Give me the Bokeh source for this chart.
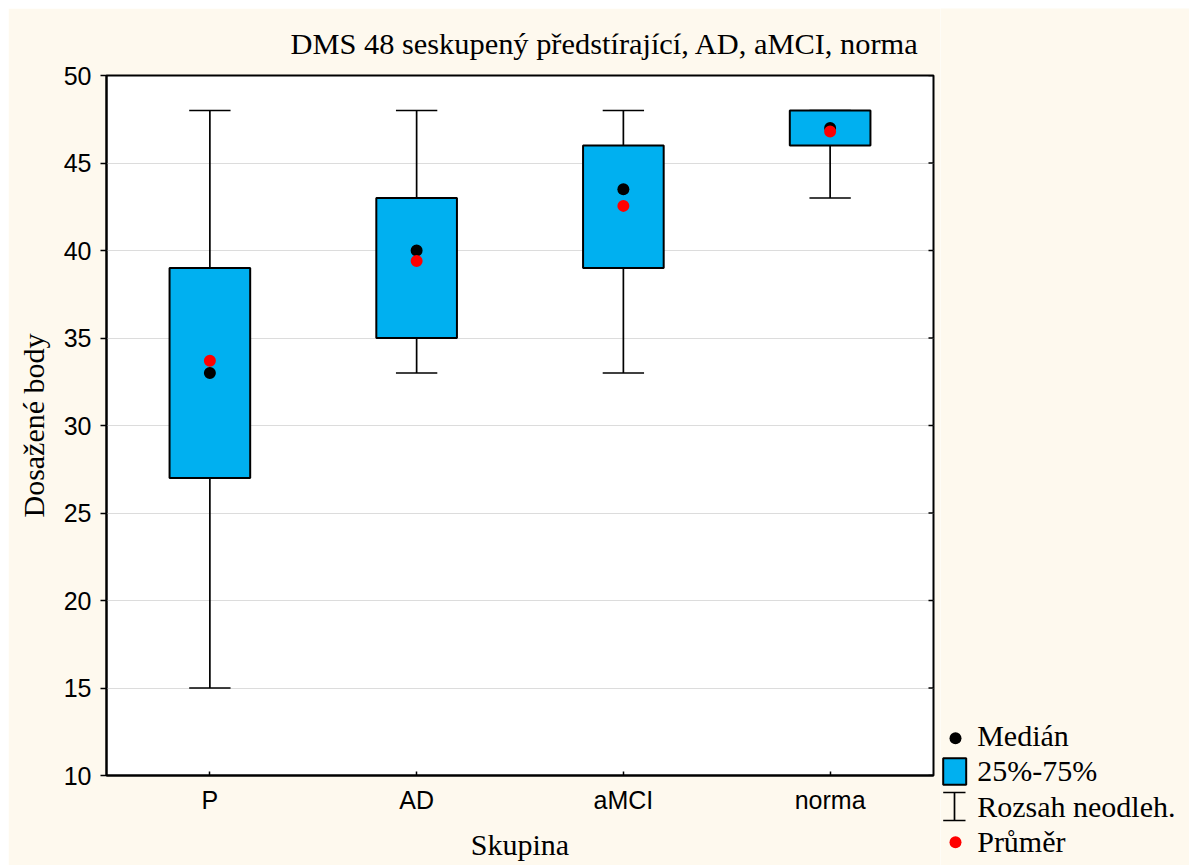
from bokeh.plotting import figure
from bokeh.models import (Range1d, FactorRange, ColumnDataSource,
                          FixedTicker, Title, Spacer)
from bokeh.transform import dodge
from bokeh.layouts import row, column
from bokeh.embed import file_html
from bokeh.resources import INLINE
from bokeh.core.properties import value

# ---------------- data ----------------
groups = ["P", "AD", "aMCI", "norma"]
minimum = [15, 33, 33, 43]
q1 = [27, 35, 39, 46]
median = [33, 40, 43.5, 47]
q3 = [39, 43, 46, 48]
maximum = [48, 48, 48, 48]
mean = [33.7, 39.4, 42.55, 46.8]

y_ticks = [10, 15, 20, 25, 30, 35, 40, 45, 50]
title_text = "DMS 48 seskupený předstírající, AD, aMCI, norma"
x_label = "Skupina"
y_label = "Dosažené body"
legend_labels = ["Medián", "25%-75%", "Rozsah neodleh.", "Průměr"]

# ---------------- style ----------------
CREAM = "#FEF9EE"
BLUE = "#00B0F0"
SERIF = "Liberation Serif"
SANS = "Liberation Sans"

src = ColumnDataSource(dict(g=groups, mn=minimum, q1=q1, med=median,
                            q3=q3, mx=maximum, mean=mean))

p = figure(width=932, height=857, title=None,
           x_range=FactorRange(*groups, range_padding=0),
           y_range=Range1d(10, 50),
           output_backend="svg", toolbar_location=None,
           min_border_left=98, min_border_top=67,
           min_border_right=7, min_border_bottom=90,
           background_fill_color="white", border_fill_color=CREAM)
p.outline_line_color = "black"
p.outline_line_width = 2

# whiskers
wl = dict(line_color="black", line_width=1.7, source=src)
p.segment(x0="g", y0="mn", x1="g", y1="q1", **wl)
p.segment(x0="g", y0="q3", x1="g", y1="mx", **wl)
p.segment(x0=dodge("g", -0.1, range=p.x_range), y0="mx",
          x1=dodge("g", 0.1, range=p.x_range), y1="mx", **wl)
p.segment(x0=dodge("g", -0.1, range=p.x_range), y0="mn",
          x1=dodge("g", 0.1, range=p.x_range), y1="mn", **wl)
# boxes
p.vbar(x="g", width=0.39, bottom="q1", top="q3", fill_color=BLUE,
       line_color="black", line_width=2, source=src)
# median and mean
p.scatter(x="g", y="med", size=12, fill_color="black", line_color=None, source=src)
p.scatter(x="g", y="mean", size=12, fill_color="red", line_color=None, source=src)

# inner tick marks along the right edge of the plot area
rt = ColumnDataSource(dict(xr=[groups[-1]] * len(y_ticks), yt=y_ticks))
p.scatter(x=dodge("xr", 0.5, range=p.x_range), y="yt", marker="dash",
          size=10, line_color="black", line_width=1.5, source=rt)

# axes
xa = p.xaxis[0]
xa.axis_line_width = 2
xa.major_tick_in = 4
xa.major_tick_out = 0
xa.major_tick_line_width = 1.5
xa.major_label_text_font = SANS
xa.major_label_text_font_size = "25px"
xa.major_label_text_color = "black"
xa.major_label_standoff = 10
xa.axis_label = x_label
xa.axis_label_text_font = SERIF
xa.axis_label_text_font_size = "30px"
xa.axis_label_text_font_style = "normal"
xa.axis_label_text_color = "black"
xa.axis_label_standoff = 11

ya = p.yaxis[0]
ya.ticker = FixedTicker(ticks=y_ticks)
ya.axis_line_width = 2
ya.major_tick_in = 0
ya.major_tick_out = 6
ya.major_tick_line_width = 1.5
ya.minor_tick_in = 0
ya.minor_tick_out = 0
ya.major_label_text_font = SANS
ya.major_label_text_font_size = "25px"
ya.major_label_text_color = "black"
ya.major_label_standoff = 9
ya.axis_label = y_label
ya.axis_label_text_font = SERIF
ya.axis_label_text_font_size = "30px"
ya.axis_label_text_font_style = "normal"
ya.axis_label_text_color = "black"
ya.axis_label_standoff = 11

p.ygrid.ticker = FixedTicker(ticks=y_ticks)
p.ygrid.grid_line_color = "#dcdcdc"
p.ygrid.grid_line_width = 1
p.xgrid.grid_line_color = None

p.add_layout(Title(text=title_text, align="left", offset=184,
                   text_font=SERIF, text_font_size="30.4px",
                   text_font_style="normal", text_color="black",
                   vertical_align="middle", standoff=28), "above")

# ---------------- legend panel (page pixel coordinates) ----------------
lg = figure(width=249, height=857, x_range=Range1d(940, 1189),
            y_range=Range1d(865, 8), output_backend="svg",
            toolbar_location=None, min_border=0,
            x_axis_location=None, y_axis_location=None,
            background_fill_color=CREAM, border_fill_color=CREAM)
lg.outline_line_color = None
lg.grid.visible = False

lg.scatter(x=[955], y=[737.7], size=12, fill_color="black", line_color=None)
lg.quad(left=[942.7], right=[965.7], top=[757.7], bottom=[784.3],
        fill_color=BLUE, line_color="black", line_width=2)
lg.segment(x0=[954], y0=[792], x1=[954], y1=[820], line_color="black", line_width=1.7)
lg.segment(x0=[942.7, 942.7], y0=[792, 820], x1=[965, 965], y1=[792, 820],
           line_color="black", line_width=1.7)
lg.scatter(x=[955], y=[841.7], size=12, fill_color="red", line_color=None)
lg.text(x=[976.7] * 4, y=[734.7, 769.7, 806.3, 840.7], text=legend_labels,
        text_font=value(SERIF), text_font_size=value("30px"),
        text_baseline="alphabetic", text_align="left", text_color="black")

# 8px white strip above and left of the chart, as in the reference
layout = column(Spacer(width=1189, height=8),
                row(Spacer(width=8, height=857), p, column(lg)))
open("out.html", "w").write(file_html(layout, INLINE))
